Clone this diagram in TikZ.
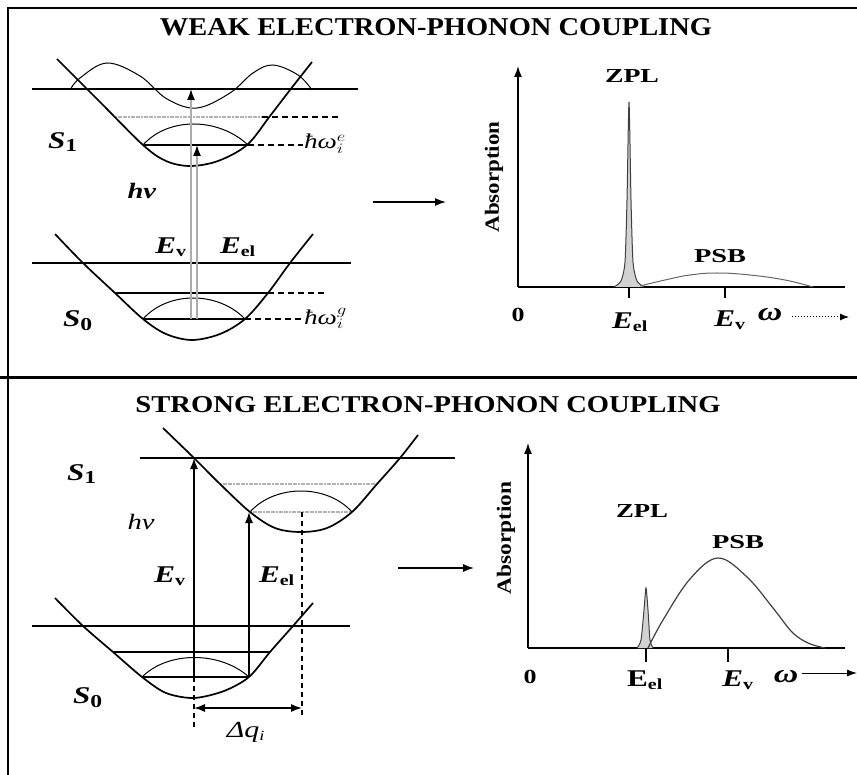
\documentclass[tikz,border=0pt]{standalone}
\usepackage{fontspec}
\setmainfont{Liberation Serif}
\usetikzlibrary{arrows.meta}
\newcommand{\fs}[1]{\fontsize{#1}{#1}\selectfont}
\newcommand{\wx}[1]{\scalebox{1.3}[1]{#1}}
\newcommand{\lbl}[2]{\wx{\fs{#1}\textbf{\textit{#2}}}}
\begin{document}
\begin{tikzpicture}[x=1pt,y=-1pt,
  frame/.style={line width=2pt},
  lev/.style={line width=1.3pt},
  pot/.style={line width=1.7pt},
  wave/.style={line width=1pt},
  graylev/.style={line width=1.6pt, draw=gray!60, dash pattern=on 2pt off 0.6pt},
  dsh/.style={line width=1.1pt, dash pattern=on 6pt off 4pt},
  garr/.style={line width=1.3pt, draw=gray!65, -{Latex[length=11pt,width=8pt,color=black]}},
  arr/.style={line width=1.3pt, -{Latex[length=11pt,width=8pt]}},
  axarr/.style={line width=1.4pt, -{Latex[length=11pt,width=8pt]}},
  lab/.style={inner sep=0pt, outer sep=0pt},
  spec/.style={line width=1pt, draw=black!75}]
\useasboundingbox (0,0) rectangle (857,775);
\fill[white] (0,0) rectangle (857,775);
% frame
\draw[frame] (8,775) -- (8,8) -- (857,8);
\draw[line width=3pt] (0,378) -- (857,378);

% ================= TOP PANEL =================
\node[lab] (t1) at (436,27) {\resizebox{552pt}{17pt}{\bfseries WEAK ELECTRON-PHONON COUPLING}};

% S1 well
\draw[lev] (32,89) -- (358,89);
\draw[graylev] (115,117) -- (262,117);
\draw[dsh] (262,117) -- (340,117);
\draw[lev] (143,145) -- (248,145);
\draw[dsh] (248,145) -- (303,145);
\draw[pot] plot[smooth, tension=0.55] coordinates {(57,59) (100,102) (143,145) (166,161) (190,166) (218,161) (247,145) (270,116) (290,90) (312,62)};
\draw[wave] plot[smooth, tension=0.6] coordinates {(70,90) (80,78) (107,63) (140,76) (167,99) (197,108) (230,93) (253,73) (273,65) (298,75) (312,90)};
\draw[wave] (143,145) .. controls (168,117) and (218,117) .. (248,145);

% S0 well
\draw[lev] (32,263) -- (351,263);
\draw[lev] (115,293) -- (268,293);
\draw[dsh] (268,293) -- (325,293);
\draw[lev] (143,319) -- (245,319);
\draw[dsh] (245,319) -- (305,319);
\draw[pot] plot[smooth, tension=0.55] coordinates {(55,234) (83,263) (115,293) (143,319) (166,334) (192,340) (220,334) (245,319) (268,293) (290,263) (313,234)};
\draw[wave] (143,319) .. controls (168,291) and (218,291) .. (245,319);

% transitions
\coordinate (wv0) at (191,319);
\coordinate (wv1) at (191,89);
\coordinate (we0) at (197,319);
\coordinate (we1) at (197,145);
\draw[garr] (wv0) -- (wv1);
\draw[garr] (we0) -- (we1);

\node[lab] (ws1) at (63,142) {\lbl{24}{S}\wx{\fs{26}\textbf{\textsubscript{1}}}};
\node[lab] (ws0) at (78,321) {\lbl{24}{S}\wx{\fs{26}\textbf{\textsubscript{0}}}};
\node[lab] (whn) at (142,191) {\lbl{22}{hν}};
\node[lab] (wev) at (171,247) {\lbl{24}{E}\wx{\fs{22}\textbf{\textsubscript{v}}}};
\node[lab] (wel) at (238,247) {\lbl{24}{E}\wx{\fs{22}\textbf{\textsubscript{el}}}};
\node[lab, anchor=west] (wwe) at (304,144) {\wx{\fs{21}\itshape ħω}\wx{\fs{20}$^{e}_{i}$}};
\node[lab, anchor=west] (wwg) at (304,318) {\wx{\fs{21}\itshape ħω}\wx{\fs{20}$^{g}_{i}$}};

% arrow to spectrum
\coordinate (wa0) at (373,202);
\coordinate (wa1) at (446,202);
\draw[arr] (wa0) -- (wa1);

% spectrum
\coordinate (wo) at (518,287);
\coordinate (wy) at (518,66);
\coordinate (wx) at (845,287);
\draw[axarr] (wo) -- (wy);
\draw[line width=1.4pt] (wo) -- (wx);
\node[lab, rotate=90] (wab) at (494,177) {\resizebox{111pt}{14pt}{\bfseries Absorption}};
\node[lab] (wzpl) at (632,76) {\resizebox{54pt}{13pt}{\bfseries ZPL}};
\node[lab] (wpsb) at (720,256) {\resizebox{52pt}{13pt}{\bfseries PSB}};
\draw[spec, fill=gray!35] plot[smooth, tension=0.4] coordinates {(614,287) (621,281) (625,262) (627,200) (629,102) (631,200) (633,262) (637,281) (644,287)};
\draw[spec, draw=black!60] plot[smooth, tension=0.7] coordinates {(640,286) (665,280) (690,275) (717,273) (750,275) (785,280) (813,287)};
\draw[line width=1.3pt] (629,287) -- (629,298);
\draw[line width=1.3pt] (725,287) -- (725,298);
\node[lab] (w0) at (518,315) {\wx{\fs{20}\bfseries 0}};
\node[lab] (wtel) at (630,322) {\lbl{24}{E}\wx{\fs{22}\textbf{\textsubscript{el}}}};
\node[lab] (wtev) at (730,320) {\lbl{24}{E}\wx{\fs{22}\textbf{\textsubscript{v}}}};
\node[lab] (wom) at (770,315) {\lbl{26}{ω}};
\coordinate (wom0) at (792,317);
\coordinate (wom1) at (849,317);
\draw[line width=1pt, dotted, -{Latex[length=9pt,width=7pt]}] (wom0) -- (wom1);

% ================= BOTTOM PANEL =================
\node[lab] (t2) at (428,405) {\resizebox{585pt}{16pt}{\bfseries STRONG ELECTRON-PHONON COUPLING}};

% S1 well (displaced)
\draw[lev] (140,458) -- (455,458);
\draw[graylev] (220,484) -- (377,484);
\draw[graylev] (250,512) -- (352,512);
\draw[pot] plot[smooth, tension=0.55] coordinates {(163,428) (194,458) (220,484) (250,512) (275,528) (301,532) (327,528) (352,512) (377,484) (400,458) (418,435)};
\draw[wave] (250,512) .. controls (275,484) and (327,484) .. (352,512);

% S0 well
\draw[lev] (32,626) -- (350,626);
\draw[lev] (113,652) -- (270,652);
\draw[lev] (142,677) -- (249,677);
\draw[pot] plot[smooth, tension=0.5] coordinates {(55,598) (83,626) (113,652) (142,677) (166,693) (194,698) (224,691) (249,677) (270,652) (293,626) (313,603)};
\draw[wave] (142,677) .. controls (168,651) and (220,651) .. (249,677);

% transitions
\coordinate (sv0) at (194,677);
\coordinate (sv1) at (194,458);
\coordinate (se0) at (249,677);
\coordinate (se1) at (249,512);
\draw[arr] (sv0) -- (sv1);
\draw[arr] (se0) -- (se1);
\coordinate (sd0) at (194,730);
\coordinate (sd1) at (302,512);
\coordinate (sd2) at (302,718);
\draw[dsh, dash pattern=on 5pt off 4pt] (sv0) -- (sd0);
\draw[dsh, dash pattern=on 5pt off 4pt] (sd1) -- (sd2);
\coordinate (dq0) at (194,708);
\coordinate (dq1) at (302,708);
\draw[line width=1.3pt, {Latex[length=11pt,width=8pt]}-{Latex[length=11pt,width=8pt]}] (dq0) -- (dq1);

\node[lab] (ss1) at (82,474) {\lbl{24}{S}\wx{\fs{26}\textbf{\textsubscript{1}}}};
\node[lab] (ss0) at (88,698) {\lbl{24}{S}\wx{\fs{26}\textbf{\textsubscript{0}}}};
\node[lab] (shn) at (141,522) {\wx{\fs{22}\itshape hν}};
\node[lab] (sev) at (170,576) {\lbl{24}{E}\wx{\fs{22}\textbf{\textsubscript{v}}}};
\node[lab] (sel) at (277,576) {\lbl{24}{E}\wx{\fs{22}\textbf{\textsubscript{el}}}};
\node[lab] (sdq) at (246,732) {\wx{\fs{23}\itshape Δq}\wx{\fs{20}\itshape\textsubscript{i}}};

% arrow to spectrum
\coordinate (sa0) at (398,568);
\coordinate (sa1) at (474,568);
\draw[arr] (sa0) -- (sa1);

% spectrum
\coordinate (so) at (528,648);
\coordinate (sy) at (528,443);
\coordinate (sx) at (845,648);
\draw[axarr] (so) -- (sy);
\draw[line width=1.4pt] (so) -- (sx);
\node[lab, rotate=90] (sab) at (506,538) {\resizebox{113pt}{14pt}{\bfseries Absorption}};
\node[lab] (szpl) at (642,511) {\resizebox{52pt}{13pt}{\bfseries ZPL}};
\node[lab] (spsb) at (738,542) {\resizebox{52pt}{13pt}{\bfseries PSB}};
\draw[spec, fill=gray!35] plot[smooth, tension=0.4] coordinates {(637,648) (641,640) (644,610) (646,588) (648,610) (650,640) (653,648)};
\draw[spec, line width=1.2pt] plot[smooth, tension=0.6] coordinates {(648,648) (663,620) (690,579) (718,558) (747,577) (773,608) (792,632) (808,643) (825,648)};
\draw[line width=1.3pt] (646,648) -- (646,662);
\draw[line width=1.3pt] (728,648) -- (728,662);
\node[lab] (s0) at (530,677) {\wx{\fs{20}\bfseries 0}};
\node[lab] (stel) at (645,680) {\wx{\fs{24}\bfseries E}\wx{\fs{22}\textbf{\textsubscript{el}}}};
\node[lab] (stev) at (738,680) {\lbl{24}{E}\wx{\fs{22}\textbf{\textsubscript{v}}}};
\node[lab] (som) at (786,677) {\lbl{26}{ω}};
\coordinate (som0) at (802,673);
\coordinate (som1) at (857,673);
\draw[line width=1pt, -{Latex[length=10pt,width=7pt]}] (som0) -- (som1);
\end{tikzpicture}
\end{document}
